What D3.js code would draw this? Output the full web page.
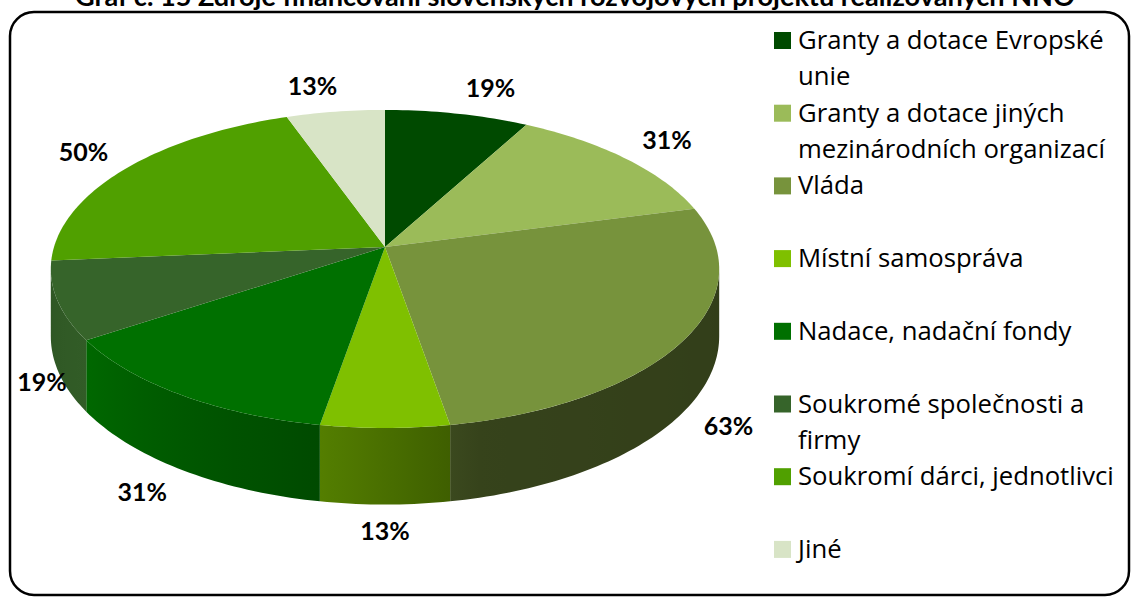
<!DOCTYPE html>
<html lang="cs">
<head>
<meta charset="utf-8">
<script src="https://d3js.org/d3.v7.min.js"></script>
<style>
  body { margin: 0; background: #fff; }
  svg { display: block; font-family: Lato, "Open Sans", sans-serif; }
</style>
</head>
<body>
<script>
// data
const title = "Graf č. 15 Zdroje financování slovenských rozvojových projektů realizovaných NNO";
const categories = [
  "Granty a dotace Evropské unie",
  "Granty a dotace jiných mezinárodních organizací",
  "Vláda",
  "Místní samospráva",
  "Nadace, nadační fondy",
  "Soukromé společnosti a firmy",
  "Soukromí dárci, jednotlivci",
  "Jiné"
];
const values = [19, 31, 63, 13, 31, 19, 50, 13];
const colors = ["#004a00", "#9bbb59", "#77933c", "#7fc000", "#007000", "#36642a", "#50a000", "#d8e4c6"];

const W = 1131, H = 597;
const svg = d3.select("body").append("svg").attr("width", W).attr("height", H);
const defs = svg.append("defs");

// frame
svg.append("rect")
  .attr("x", 10).attr("y", 12).attr("width", 1119).attr("height", 583)
  .attr("rx", 24).attr("ry", 24)
  .attr("fill", "none").attr("stroke", "#000").attr("stroke-width", 2.5);

// title (top of it is cut off by the page edge)
const t = svg.append("text")
  .attr("x", 575).attr("y", 6)
  .attr("text-anchor", "middle")
  .attr("font-weight", "bold").attr("font-size", 23)
  .text(title);
const tw = t.node().getComputedTextLength();
t.attr("font-size", 23 * 1000 / tw);

// 3D pie projection (slight perspective)
const cx = 385, hubY = 247, A = 331, B = 156, k = -0.138, D = 66;
function proj(a, r) {
  r = r == null ? 1 : r;
  const u = Math.sin(a) * r, v = -Math.cos(a) * r;
  const den = 1 + k * v;
  return [cx + A * u / den, hubY + B * v / den];
}
function depth(a) { return D / (1 + k * (-Math.cos(a))); }
function samples(a0, a1) {
  const n = Math.max(2, Math.ceil((a1 - a0) / 0.02));
  return d3.range(n + 1).map(i => a0 + (a1 - a0) * i / n);
}

const pie = d3.pie().sort(null).value(d => d);
const arcs = pie(values);
const line = d3.line();

// side shading as function of angle
const rad = d => d * Math.PI / 180;
const shade = d3.scaleLinear()
  .domain([98, 165, 190, 236, 262].map(rad))
  .range([0.42, 0.45, 0.66, 0.92, 0.86])
  .clamp(true);
function scaled(col, f) {
  const c = d3.rgb(col);
  return d3.rgb(c.r * f, c.g * f, c.b * f).formatHex();
}

const visMin = Math.acos(k), visMax = 2 * Math.PI - Math.acos(k);

const gWalls = svg.append("g");
const gTops = svg.append("g");

arcs.forEach((d, i) => {
  const b0 = Math.max(d.startAngle, visMin), b1 = Math.min(d.endAngle, visMax);
  if (b1 > b0) {
    const angs = samples(b0, b1);
    const top = angs.map(a => proj(a));
    const bot = angs.map(a => { const p = proj(a); return [p[0], p[1] + depth(a)]; }).reverse();
    const xs = top.map(p => p[0]);
    const x0 = d3.min(xs), x1 = d3.max(xs);
    const gid = "wall" + i;
    const grad = defs.append("linearGradient").attr("id", gid)
      .attr("gradientUnits", "userSpaceOnUse")
      .attr("x1", x0).attr("x2", x1).attr("y1", 0).attr("y2", 0);
    samples(b0, b1).filter((a, j, arr) => j % 4 === 0 || j === arr.length - 1)
      .map(a => ({ off: (proj(a)[0] - x0) / Math.max(1, x1 - x0), col: scaled(colors[i], shade(a)) }))
      .sort((p, q) => p.off - q.off)
      .forEach(s => grad.append("stop").attr("offset", s.off).attr("stop-color", s.col));
    gWalls.append("path")
      .attr("d", line(top.concat(bot)) + "Z")
      .attr("fill", "url(#" + gid + ")");
  }
  const pts = [[cx, hubY]].concat(samples(d.startAngle, d.endAngle).map(a => proj(a)));
  gTops.append("path")
    .attr("d", line(pts) + "Z")
    .attr("fill", colors[i]);
});

// data labels (kept inside the frame)
const hw = 30, hh = 6;
svg.append("g").selectAll("text")
  .data(arcs)
  .join("text")
  .each(function(d) {
    const a = (d.startAngle + d.endAngle) / 2;
    const u = Math.sin(a), v = -Math.cos(a);
    const p = proj(a);
    let y = p[1];
    if (v > 0) y += depth(a) * Math.min(1, v * 3);
    let x = p[0] + u * 15 + Math.sign(u) * hw * Math.min(1, Math.abs(u) * 4);
    x = Math.max(x, 10 + 25 + 7);
    y = y + v * 20 + Math.sign(v) * hh * Math.min(1, Math.abs(v) * 4);
    d3.select(this).attr("x", x).attr("y", y);
  })
  .attr("text-anchor", "middle")
  .attr("dy", "0.36em")
  .attr("font-weight", "bold")
  .attr("font-size", 25)
  .attr("fill", "#000")
  .text(d => d.data + "%");

// legend
const legX = 774, legY = 32, legStep = 72.7, lineH = 36, maxW = 322;
const leg = svg.append("g").attr("font-family", "'Open Sans', sans-serif");
// fit font size so the widest one-line label spans ~316px
const probe = leg.append("text").attr("font-size", 24).text("Soukromí dárci, jednotlivci");
const legFont = 24 * 316 / probe.node().getComputedTextLength();
probe.remove();
categories.forEach((name, i) => {
  const y0 = legY + i * legStep;
  leg.append("rect").attr("x", legX).attr("y", y0).attr("width", 17).attr("height", 17)
    .attr("fill", colors[i]);
  const txt = leg.append("text").attr("x", legX + 24).attr("y", y0 + 17)
    .attr("font-size", legFont).attr("fill", "#000");
  // wrap words
  const words = name.split(" ");
  let lineWords = [];
  let ts = txt.append("tspan").attr("x", legX + 24).attr("dy", 0);
  words.forEach(w => {
    lineWords.push(w);
    ts.text(lineWords.join(" "));
    if (ts.node().getComputedTextLength() > maxW && lineWords.length > 1) {
      lineWords.pop();
      ts.text(lineWords.join(" "));
      lineWords = [w];
      ts = txt.append("tspan").attr("x", legX + 24).attr("dy", lineH).text(w);
    }
  });
});
</script>
</body>
</html>
